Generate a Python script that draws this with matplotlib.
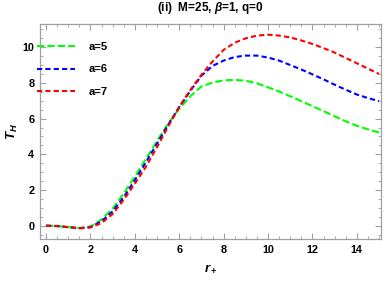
import matplotlib
matplotlib.use("Agg")
import matplotlib.pyplot as plt
from matplotlib.ticker import MultipleLocator

plt.rcParams["font.family"] = ["Liberation Sans", "DejaVu Sans"]
plt.rcParams["mathtext.fontset"] = "custom"
plt.rcParams["mathtext.it"] = "Liberation Sans:italic:bold"
plt.rcParams["mathtext.rm"] = "Liberation Sans:bold"
plt.rcParams["mathtext.bf"] = "Liberation Sans:bold"

# horizon radius samples
r_plus = [0, 0.5, 1.0, 1.5, 2.0, 2.5, 3.0, 3.5, 4.0, 4.5, 5.0, 5.5, 6.0, 6.5, 7.0, 7.5,
          8.0, 8.5, 9.0, 9.5, 10.0, 10.5, 11.0, 11.5, 12.0, 12.5, 13.0, 13.5, 14.0, 14.5, 15.0]

# Hawking temperature
T_a5 = [0, -0.02, -0.08, -0.13, -0.05, 0.35, 0.95, 1.8, 2.75, 3.75, 4.75, 5.72, 6.55, 7.25,
        7.8, 8.02, 8.14, 8.17, 8.12, 7.98, 7.75, 7.52, 7.25, 6.98, 6.7, 6.42, 6.13, 5.85,
        5.6, 5.4, 5.22]
T_a6 = [0, -0.02, -0.08, -0.14, -0.08, 0.25, 0.8, 1.6, 2.55, 3.55, 4.6, 5.65, 6.65, 7.55,
        8.4, 8.95, 9.25, 9.45, 9.53, 9.53, 9.42, 9.25, 9.0, 8.75, 8.48, 8.2, 7.9, 7.62,
        7.35, 7.15, 6.98]
T_a7 = [0, -0.02, -0.08, -0.15, -0.1, 0.15, 0.65, 1.45, 2.35, 3.3, 4.4, 5.55, 6.65, 7.6,
        8.45, 9.2, 9.85, 10.25, 10.5, 10.65, 10.7, 10.65, 10.55, 10.38, 10.18, 9.95, 9.7,
        9.4, 9.1, 8.8, 8.5]

labels = ["a=5", "a=6", "a=7"]

fig = plt.figure(figsize=(3.87, 2.83), dpi=100)
ax = fig.add_axes([0.1034, 0.1555, 0.8811, 0.7597])

ax.plot(r_plus, T_a5, color="#00ff00", lw=1.5, dashes=(3.5, 1.5), label=labels[0])
ax.plot(r_plus, T_a6, color="#0000ff", lw=1.5, dashes=(2.5, 1.5), label=labels[1])
ax.plot(r_plus, T_a7, color="#ff0000", lw=1.5, dashes=(2.5, 1.5), label=labels[2])

ax.set_xlim(-0.27, 15.09)
ax.set_ylim(-0.745, 11.3)
ax.xaxis.set_major_locator(MultipleLocator(2))
ax.xaxis.set_minor_locator(MultipleLocator(0.5))
ax.yaxis.set_major_locator(MultipleLocator(2))
ax.yaxis.set_minor_locator(MultipleLocator(0.5))
ax.tick_params(which="both", direction="in", top=True, right=True, color="#a0a0a0",
               labelsize=7.8, pad=4)
ax.tick_params(which="major", length=4, width=0.8)
ax.tick_params(which="minor", length=2, width=0.6)
for lab in ax.get_xticklabels() + ax.get_yticklabels():
    lab.set_fontweight("bold")
for s in ax.spines.values():
    s.set_color("#a0a0a0")
    s.set_linewidth(0.9)

ax.set_xlabel(r"$r_+$", fontsize=9.5, labelpad=6)
ax.set_ylabel(r"$T_H$", fontsize=9.5, labelpad=2)
ax.set_title(r"(ii)  M=25, $\beta$=1, q=0", fontsize=8.5, fontweight="bold", pad=9)

ax.legend(loc="upper left", frameon=False, fontsize=8, handlelength=3.4,
          handletextpad=1.2, labelspacing=1.1, borderaxespad=0,
          bbox_to_anchor=(-0.008, 0.915), borderpad=0.0)
leg = ax.get_legend()
for t in leg.get_texts():
    t.set_fontweight("bold")

fig.savefig("out.png", dpi=100)
